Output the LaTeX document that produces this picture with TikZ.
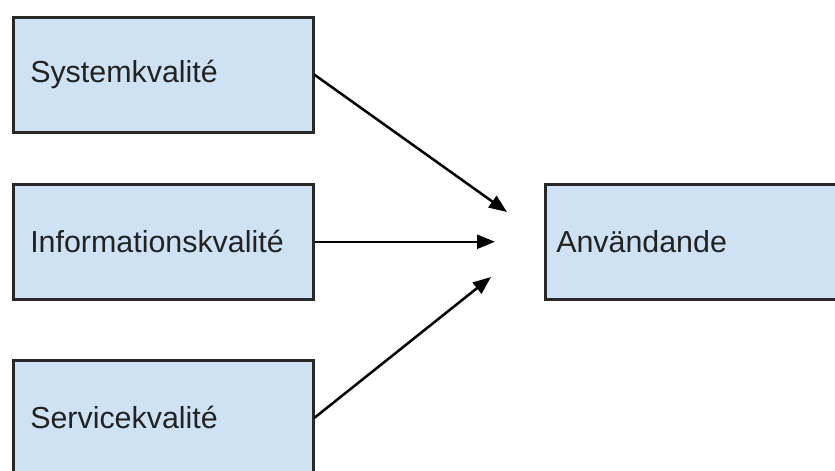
\documentclass[tikz,border=0pt]{standalone}
\usepackage{fontspec}
\setmainfont{Liberation Sans}
\usetikzlibrary{arrows.meta,positioning}
\definecolor{boxblue}{RGB}{207,226,243}
\definecolor{boxline}{RGB}{40,40,40}
\definecolor{textgray}{RGB}{34,34,34}
\tikzset{
    qbox/.style={rectangle, draw=boxline, fill=boxblue, line width=2.5pt, minimum width=300pt, minimum height=115pt, text width=266pt, inner xsep=17pt, align=left, font=\fontsize{30.4}{36}\selectfont, text=textgray, anchor=north west},
    ubox/.style={qbox, text width=278pt, inner xsep=11pt},
    link/.style={line width=2.5pt, black, -{Triangle[length=18pt,width=14pt]}},
}
\begin{document}
\begin{tikzpicture}[x=1pt,y=-1pt]
    \clip (0,0) rectangle (835,471);
    \fill[white] (0,0) rectangle (835,471);
    \node[qbox] (sys) at (12,16) {Systemkvalité};
    \node[qbox] (info) at (12,183) {Informationskvalité};
    \node[qbox] (serv) at (12,359) {Servicekvalité};
    \node[ubox] (anv) at (544,183) {Användande};
    % free ends in front of the target box
    \coordinate (in1) at (507,212);
    \coordinate (in2) at (info.east -| 495,0);
    \coordinate (in3) at (491,277);
    \draw[link] (sys.east) -- (in1);
    \draw[link] (info.east) -- (in2);
    \draw[link] (serv.east) -- (in3);
\end{tikzpicture}
\end{document}
